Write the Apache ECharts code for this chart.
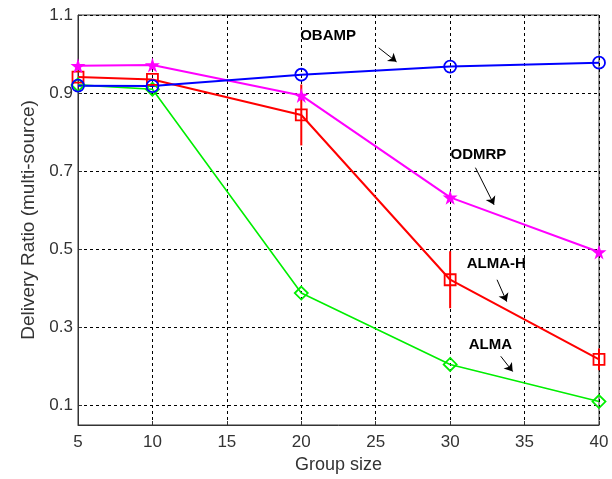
<!doctype html>
<html>
<head>
<meta charset="utf-8">
<title>Delivery ratio</title>
<script src="https://cdn.jsdelivr.net/npm/echarts@6/dist/echarts.min.js"></script>
<style>
  html, body { margin: 0; padding: 0; background: #fff; }
  #main { width: 612px; height: 479px; }
</style>
</head>
<body>
<div id="main"></div>
<script>
// group sizes
var groupSize = [5, 10, 20, 30, 40];
// delivery ratios
var obamp = [0.919, 0.918, 0.947, 0.968, 0.978];
var odmrp = [0.970, 0.972, 0.894, 0.633, 0.493];
var almaH = [0.941, 0.935, 0.844, 0.422, 0.218];
var alma  = [0.921, 0.910, 0.388, 0.205, 0.110];
// error bars on ALMA-H (x, half width)
var almaHErrX = [20, 30, 40];
var almaHErr  = [0.078, 0.073, 0.028];
var yTicks = [0.1, 0.3, 0.5, 0.7, 0.9, 1.1];

var star = 'path://M50,0 L61,35 L98,35 L68,57 L79,91 L50,70 L21,91 L32,57 L2,35 L39,35 Z';

function pairs(ys) {
  return groupSize.map(function (x, i) { return [x, ys[i]]; });
}

function lineSeries(name, ys, color, symbol, size, filled, width) {
  return {
    name: name,
    type: 'line',
    data: pairs(ys),
    symbol: symbol,
    symbolSize: size,
    showAllSymbol: true,
    lineStyle: { color: color, width: width },
    itemStyle: filled ? { color: color } : { color: 'rgba(0,0,0,0)', borderColor: color, borderWidth: 1.8 },
    z: 3
  };
}

// annotations: [text, textX, textY, arrowFromX, arrowFromY, arrowToX, arrowToY]
var notes = [
  ['OBAMP', 21.8, 1.046, 25.2, 1.016, 26.4, 0.980],
  ['ODMRP', 31.9, 0.742, 31.7, 0.709, 32.95, 0.614],
  ['ALMA-H', 33.1, 0.463, 33.15, 0.422, 33.8, 0.366],
  ['ALMA', 32.7, 0.254, 33.4, 0.226, 34.2, 0.187]
];

var chart = echarts.init(document.getElementById('main'));
var fam = 'Liberation Sans, Arial, sans-serif';

chart.setOption({
  animation: false,
  backgroundColor: '#fff',
  grid: { left: 78, right: 13, top: 15, bottom: 53, show: true, borderColor: '#333', borderWidth: 1 },
  xAxis: {
    type: 'value',
    min: 5, max: 40, interval: 5,
    name: 'Group size',
    nameLocation: 'middle',
    nameGap: 31,
    nameTextStyle: { fontFamily: fam, fontSize: 18, color: '#333' },
    axisLine: { onZero: false, lineStyle: { color: '#333' } },
    axisTick: { inside: true, length: 4, lineStyle: { color: '#333' } },
    axisLabel: { margin: 9, fontFamily: fam, fontSize: 17, color: '#333' },
    splitLine: { show: true, lineStyle: { color: '#000', type: [3, 3], width: 1 } }
  },
  yAxis: {
    type: 'value',
    min: 0.05, max: 1.1,
    name: 'Delivery Ratio (multi-source)',
    nameLocation: 'middle',
    nameGap: 40,
    nameTextStyle: { fontFamily: fam, fontSize: 19, color: '#333' },
    axisLine: { lineStyle: { color: '#333' } },
    axisTick: { inside: true, length: 4, customValues: yTicks, lineStyle: { color: '#333' } },
    axisLabel: { margin: 5, customValues: yTicks, fontFamily: fam, fontSize: 17, color: '#333',
      formatter: function (v) { return (+v).toFixed(1); } },
    splitLine: { show: true, lineStyle: { color: '#000', type: [3, 3], width: 1 } }
  },
  series: [
    lineSeries('ALMA', alma, '#00ee00', 'diamond', 13, false, 1.6),
    lineSeries('ALMA-H', almaH, '#ff0000', 'rect', 11, false, 2),
    {
      name: 'ALMA-H err',
      type: 'custom',
      data: almaHErrX.map(function (x, i) {
        var c = almaH[groupSize.indexOf(x)];
        return [x, c - almaHErr[i], c + almaHErr[i]];
      }),
      renderItem: function (params, api) {
        var lo = api.coord([api.value(0), api.value(1)]);
        var hi = api.coord([api.value(0), api.value(2)]);
        return {
          type: 'line',
          shape: { x1: lo[0], y1: lo[1], x2: hi[0], y2: hi[1] },
          style: { stroke: '#ff0000', lineWidth: 2 }
        };
      },
      z: 2
    },
    lineSeries('ODMRP', odmrp, '#ff00ff', star, 15, true, 2),
    lineSeries('OBAMP', obamp, '#0000ff', 'circle', 12, false, 2),
    {
      name: 'notes',
      type: 'scatter',
      data: notes.map(function (n) { return { value: [n[1], n[2]], label: { formatter: n[0] } }; }),
      symbolSize: 0,
      itemStyle: { color: '#000', opacity: 1 },
      label: {
        show: true,
        position: 'inside',
        fontFamily: fam,
        fontWeight: 'bold',
        fontSize: 15,
        color: '#000',
        textBorderWidth: 0,
        opacity: 1
      },
      markLine: {
        silent: true,
        symbol: ['none', 'arrow'],
        symbolSize: 8,
        lineStyle: { color: '#000', width: 1, type: 'solid', opacity: 1 },
        label: { show: false },
        data: notes.map(function (n) {
          return [{ coord: [n[3], n[4]] }, { coord: [n[5], n[6]] }];
        })
      },
      z: 5
    }
  ]
});
</script>
</body>
</html>
